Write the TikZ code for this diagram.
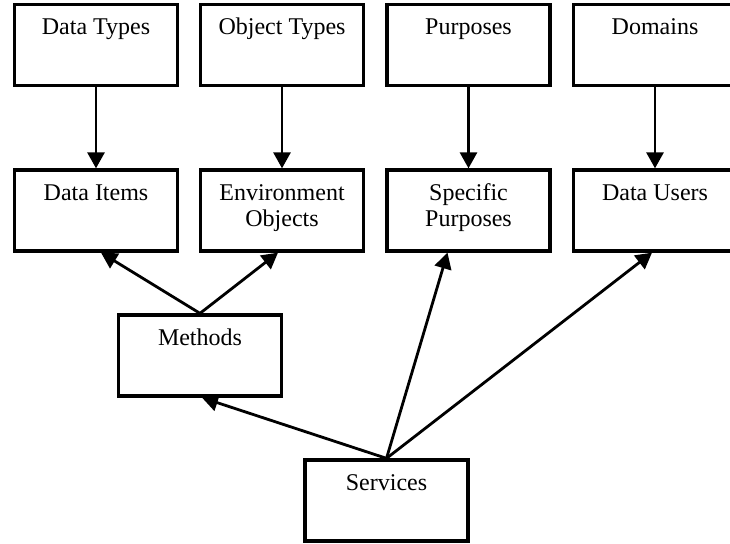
\documentclass[tikz,border=0pt]{standalone}
\usepackage{fontspec}
\setmainfont{Liberation Serif}
\usetikzlibrary{arrows.meta,calc}
\begin{document}
\begin{tikzpicture}[x=1pt,y=-1pt,
  box/.style={draw=black, line width=3.3pt, minimum width=163pt, minimum height=81pt, inner sep=0pt},
  lbl/.style={font=\fontsize{24}{26}\selectfont, align=center, anchor=base, inner sep=0pt},
  arr/.style={line width=2.8pt, -{Triangle[length=16pt,width=17pt]}}]
\useasboundingbox (0,0) rectangle (730,543);
% top row
\node[box] (dt) at (96,45) {};
\node[box] (ot) at (282,45) {};
\node[box] (pu) at (468.5,45) {};
\node[box] (dm) at (655,45) {};
% second row
\node[box] (di) at (96,210.5) {};
\node[box] (eo) at (282,210.5) {};
\node[box] (sp) at (468.5,210.5) {};
\node[box] (du) at (655,210.5) {};
% lower boxes
\node[box] (me) at (200,355.5) {};
\node[box] (se) at (386.5,500.5) {};
% labels
\node[lbl] (dtl) at ([yshift=-32pt]dt.north) {Data Types};
\node[lbl] (otl) at ([yshift=-32pt]ot.north) {Object Types};
\node[lbl] (pul) at ([yshift=-32pt]pu.north) {Purposes};
\node[lbl] (dml) at ([yshift=-32pt]dm.north) {Domains};
\node[lbl] (dil) at ([yshift=-32pt]di.north) {Data Items};
\node[lbl] (eol) at ([yshift=-58pt]eo.north) {Environment\\Objects};
\node[lbl] (spl) at ([yshift=-58pt]sp.north) {Specific\\Purposes};
\node[lbl] (dul) at ([yshift=-32pt]du.north) {Data Users};
\node[lbl] (mel) at ([yshift=-32pt]me.north) {Methods};
\node[lbl] (sel) at ([yshift=-32pt]se.north) {Services};
% connectors
\draw[arr] (dt.south) -- (di.north);
\draw[arr] (ot.south) -- (eo.north);
\draw[arr] (pu.south) -- (sp.north);
\draw[arr] (dm.south) -- (du.north);
\draw[arr] (me.north) -- ([xshift=5pt]di.south);
\draw[arr] (me.north) -- ([xshift=-4pt]eo.south);
\draw[arr] (se.north) -- ([xshift=2pt]me.south);
\draw[arr] (se.north) -- ([xshift=-21pt]sp.south);
\draw[arr] (se.north) -- ([xshift=-3pt]du.south);
\end{tikzpicture}
\end{document}
